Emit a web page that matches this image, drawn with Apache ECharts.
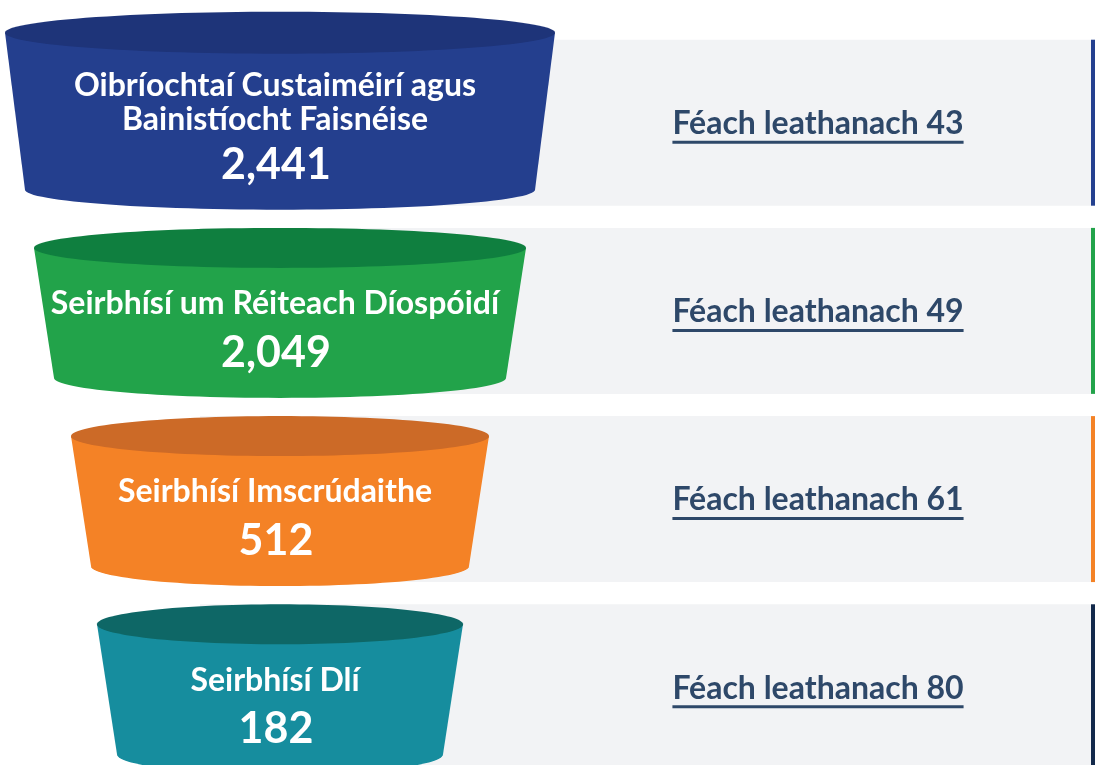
<!DOCTYPE html>
<html>
<head>
<meta charset="utf-8">
<script src="https://cdn.jsdelivr.net/npm/echarts@6/dist/echarts.min.js"></script>
<style>
html,body{margin:0;padding:0;background:#ffffff;}
#chart{width:1095px;height:765px;}
</style>
</head>
<body>
<div id="chart"></div>
<script>
// ---- data ----
const categories = [
  'Oibríochtaí Custaiméirí agus\nBainistíocht Faisnéise',
  'Seirbhísí um Réiteach Díospóidí',
  'Seirbhísí Imscrúdaithe',
  'Seirbhísí Dlí'
];
const values = [2441, 2049, 512, 182];
const pages = [43, 49, 61, 80];
const linkPrefix = 'Féach leathanach ';

// ---- styles / layout ----
const bodyColors = ['#243f8e', '#22a34a', '#f48226', '#168d9e'];
const lidColors  = ['#1e3479', '#0f7f3f', '#cc6a27', '#0e6766'];
const edgeColors = ['#24408f', '#22a34a', '#f48226', '#13294b'];
const topRx = [275, 246, 209, 183];
const TAPER = 20;
const CYL_CX = 280;
const LINK_CX = 818;
const BAND_LEFT = 200;
const BAND_RIGHT = 1091;
const EDGE_W = 4;
const FONT = 'Lato';
const LINK_COLOR = '#2e4869';
const LINK_SIZE = 32;
const NAME_SIZE = 32;
const VALUE_SIZE = 43;
// row axis range (index units), chosen so each row occupies ~188px
const ROW_MIN = -0.652;
const ROW_MAX = 3.413;

const measureCtx = document.createElement('canvas').getContext('2d');
function textWidth(str, size) {
  measureCtx.font = 'bold ' + size + 'px ' + FONT;
  return measureCtx.measureText(str).width;
}

function renderItem(params, api) {
  const idx = api.value(1);
  const val = api.value(2);
  const page = api.value(3);
  const yc = api.coord([0, idx])[1];
  const step = api.size([0, 1])[1];
  const halfBand = step * 0.441;
  const cx = api.coord([CYL_CX, idx])[0];
  const linkX = api.coord([LINK_CX, idx])[0];
  const bandL = api.coord([BAND_LEFT, idx])[0];
  const bandR = api.coord([BAND_RIGHT, idx])[0];

  const lines = categories[idx].split('\n');
  const n = lines.length;
  const yTop = yc - 63 - 27 * (n - 1);
  const yBot = yc + 67;
  const rt = topRx[idx];
  const rb = rt - TAPER;
  const ry = 20;

  const body = [[cx - rt, yTop], [cx + rt, yTop], [cx + rb, yBot]];
  for (let k = 0; k <= 60; k++) {
    const t = Math.PI * k / 60;
    body.push([cx + rb * Math.cos(t), yBot + ry * Math.sin(t)]);
  }
  const lid = [];
  for (let k = 0; k < 120; k++) {
    const t = 2 * Math.PI * k / 120;
    lid.push([cx + rt * Math.cos(t), yTop + (ry + (n > 1 ? 1 : 0)) * Math.sin(t)]);
  }

  const children = [
    { type: 'rect', shape: { x: bandL, y: yc - halfBand, width: bandR - bandL, height: halfBand * 2 },
      style: { fill: '#f2f3f5' } },
    { type: 'rect', shape: { x: bandR, y: yc - halfBand, width: EDGE_W, height: halfBand * 2 },
      style: { fill: edgeColors[idx] } },
    { type: 'polygon', shape: { points: body }, style: { fill: bodyColors[idx] } },
    { type: 'polygon', shape: { points: lid }, style: { fill: lidColors[idx] } }
  ];

  const firstLine = yc - 7 - 30 * (n - 1);
  lines.forEach((ln, j) => {
    children.push({
      type: 'text',
      style: { text: ln, x: cx - 5, y: firstLine + 34 * j, align: 'center', verticalAlign: 'middle',
        fill: '#ffffff', font: 'bold ' + NAME_SIZE + 'px ' + FONT }
    });
  });
  const valueY = firstLine + 34 * (n - 1) + 49 - 4 * (n - 1);
  children.push({
    type: 'text',
    style: { text: val.toLocaleString('en-US'), x: cx - 4, y: valueY, align: 'center', verticalAlign: 'middle',
      fill: '#ffffff', font: 'bold ' + VALUE_SIZE + 'px ' + FONT }
  });

  const label = linkPrefix + page;
  const w = textWidth(label, LINK_SIZE);
  children.push({
    type: 'text',
    style: { text: label, x: linkX, y: yc + 1, align: 'center', verticalAlign: 'middle',
      fill: LINK_COLOR, font: 'bold ' + LINK_SIZE + 'px ' + FONT }
  });
  children.push({
    type: 'rect',
    shape: { x: linkX - w / 2, y: yc + 18, width: w, height: 3 },
    style: { fill: LINK_COLOR }
  });

  return { type: 'group', children: children };
}

const chart = echarts.init(document.getElementById('chart'), null, { renderer: 'canvas' });
chart.setOption({
  backgroundColor: '#ffffff',
  animation: false,
  grid: { left: 0, right: 0, top: 0, bottom: 0 },
  xAxis: { type: 'value', min: 0, max: 1095, show: false },
  yAxis: { type: 'value', inverse: true, min: ROW_MIN, max: ROW_MAX, show: false },
  series: [{
    type: 'custom',
    renderItem: renderItem,
    encode: { x: 0, y: 1 },
    data: values.map((v, i) => [0, i, v, pages[i]]),
    clip: false
  }]
});
</script>
</body>
</html>
